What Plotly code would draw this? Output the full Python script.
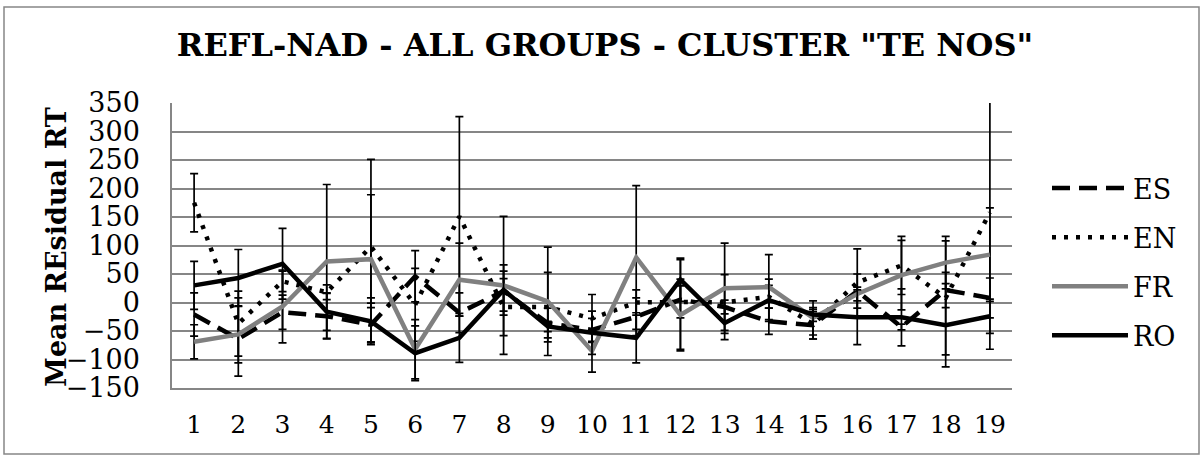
import plotly.graph_objects as go

# ---- data ----
categories = list(range(1, 20))
tick_labels = [str(c) for c in categories]

es = [-21, -64, -17, -24, -39, 46, -18, 20, -36, -48, -25, 5, -8, -33, -40, 20, -43, 22, 8]
en = [175, -37, 37, 18, 98, -4, 151, -8, -8, -28, 0, 1, 0, 10, -38, 35, 65, 8, 158]
fr = [-69, -56, -7, 72, 76, -82, 40, 30, 2, -85, 79, -22, 25, 27, -27, 15, 48, 70, 84]
ro = [30, 43, 68, -16, -33, -89, -62, 22, -42, -53, -62, 40, -36, 4, -21, -26, -26, -40, -24]

es_err_plus = [38, 72, 30, 40, 30, 45, 35, 35, 26, 20, 33, 70, 12, 23, 24, 30, 5, 31, 35]
es_err_minus = [38, 65, 30, 40, 30, 45, 35, 35, 26, 20, 33, 87, 12, 23, 24, 30, 5, 31, 35]
en_err_plus = [51, 57, 18, 13, 91, 64, 175, 50, 61, 42, 22, 28, 49, 20, 26, 59, 51, 100, 240]
en_err_minus = [51, 57, 18, 13, 99, 64, 175, 50, 61, 42, 22, 28, 49, 20, 26, 59, 51, 100, 240]
fr_err_plus = [30, 50, 64, 135, 175, 52, 64, 121, 95, 37, 126, 63, 79, 57, 30, 12, 61, 46, 82]
fr_err_minus = [30, 50, 64, 135, 147, 52, 64, 121, 95, 37, 126, 63, 79, 57, 30, 12, 61, 46, 82]
ro_err_plus = [42, 50, 62, 33, 41, 48, 43, 44, 9, 38, 44, 38, 29, 37, 12, 48, 50, 73, 30]
ro_err_minus = [42, 50, 62, 33, 41, 48, 43, 44, 9, 38, 44, 38, 29, 37, 12, 48, 50, 73, 30]

series = [
    ("ES", es, es_err_plus, es_err_minus, "#000000", "18px,9px"),
    ("EN", en, en_err_plus, en_err_minus, "#000000", "4px,8px"),
    ("FR", fr, fr_err_plus, fr_err_minus, "#808080", "solid"),
    ("RO", ro, ro_err_plus, ro_err_minus, "#000000", "solid"),
]

FONT = "DejaVu Serif"

fig = go.Figure()
for name, vals, ep, em, color, dash in series:
    fig.add_trace(go.Scatter(
        x=categories, y=vals, name=name, mode="lines",
        legendgroup=name,
        line=dict(color=color, width=4.5, dash=dash),
        error_y=dict(type="data", symmetric=False, array=ep, arrayminus=em,
                     color="#000000", thickness=1.7, width=4),
    ))

# plot area geometry
L, R, T, B = 172, 190, 103, 69
W, H = 1202, 457
pw, ph = W - L - R, H - T - B

fig.update_layout(
    width=W, height=H,
    margin=dict(l=L, r=R, t=T, b=B, pad=0),
    paper_bgcolor="white", plot_bgcolor="white",
    font=dict(family=FONT, color="#000000", size=24),
    title=dict(text="<b>REFL-NAD - ALL GROUPS - CLUSTER \"TE NOS\"</b>",
               x=605 / W, xanchor="center", y=1 - 45 / H, yanchor="middle",
               font=dict(family=FONT, size=32, color="#000000")),
    showlegend=True,
    legend=dict(x=(1047 - L) / pw, xanchor="left", y=(H - B - 164) / ph, yanchor="top",
                font=dict(family=FONT, size=27, color="#000000"),
                itemwidth=76, tracegroupgap=11, bgcolor="rgba(0,0,0,0)"),
    xaxis=dict(range=[0.5, 19.5], tickmode="array", tickvals=categories, ticktext=tick_labels,
               showgrid=False, zeroline=False, showline=True, linecolor="#868686", linewidth=1.5,
               ticks="", ticklabelstandoff=13, tickfont=dict(family=FONT, size=25)),
    yaxis=dict(range=[-150, 350], dtick=50, tick0=0, showgrid=True, gridcolor="#868686", gridwidth=1.5,
               zeroline=False, showline=True, linecolor="#868686", linewidth=1.5,
               ticks="", ticklabelstandoff=25, tickfont=dict(family=FONT, size=27)),
    annotations=[dict(text="<b>Mean REsidual RT</b>", textangle=-90,
                      xref="paper", yref="paper", x=(56 - L) / pw, y=(H - B - 247) / ph,
                      xanchor="center", yanchor="middle", showarrow=False,
                      font=dict(family=FONT, size=27, color="#000000"))],
    shapes=[dict(type="rect", xref="paper", yref="paper",
                 x0=(4 - L) / pw, x1=(1199 - L) / pw,
                 y0=(H - B - 454) / ph, y1=(H - B - 7) / ph,
                 line=dict(color="#868686", width=1.5), fillcolor="rgba(0,0,0,0)", layer="below")],
)

fig.write_html("out.html", config={"displayModeBar": False},
               post_script="document.body.style.margin='0';")
